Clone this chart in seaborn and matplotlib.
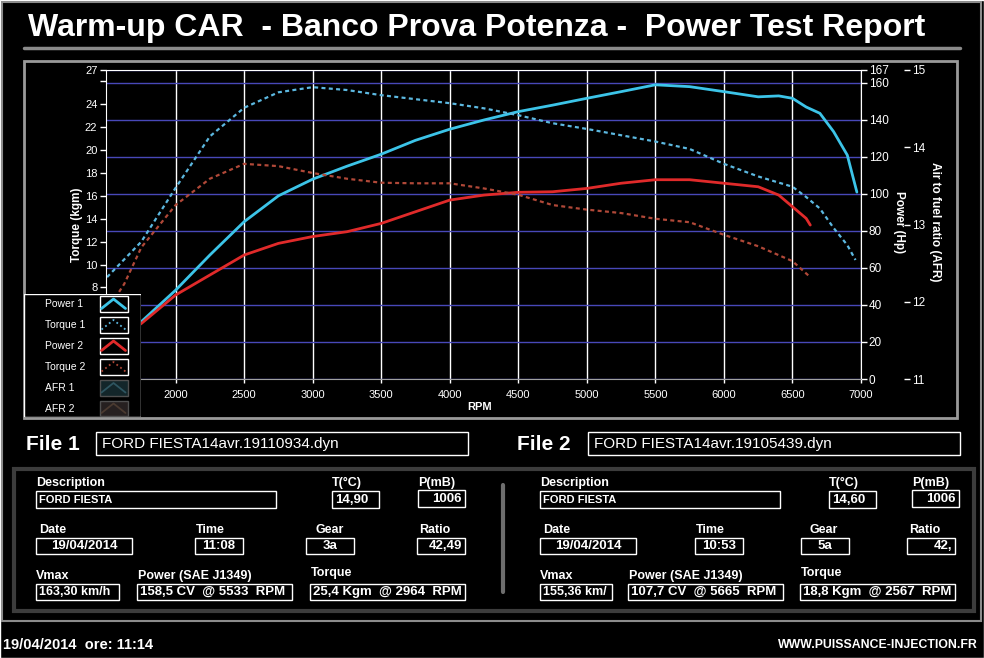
import numpy as np
import pandas as pd
import seaborn as sns
import matplotlib.pyplot as plt
from matplotlib.patches import Rectangle

# curves
rpm_power_1 = [1500, 1750, 2000, 2250, 2500, 2750, 3000, 3250, 3500, 3750, 4000, 4250, 4500, 4750,
               5000, 5250, 5500, 5750, 6000, 6250, 6400, 6500, 6600, 6700, 6800, 6900, 6970]
power_1 = [19, 31, 48, 67, 85, 99, 108, 115, 121.5, 129, 135, 140, 144.5, 148,
           151.7, 155.3, 159, 158, 155.3, 152.5, 153, 151.7, 147, 143.6, 133.7, 121, 101]

rpm_torque_1 = [1500, 1750, 2000, 2250, 2500, 2750, 3000, 3250, 3500, 3750, 4000, 4250, 4500, 4750,
                5000, 5250, 5500, 5750, 6000, 6250, 6500, 6600, 6700, 6800, 6900, 6960]
torque_1 = [8.9, 12.0, 16.7, 21.2, 23.7, 25.05, 25.5, 25.25, 24.8, 24.45, 24.1, 23.65, 23.05, 22.35,
            21.85, 21.3, 20.75, 20.1, 18.8, 17.7, 16.8, 15.9, 14.9, 13.2, 11.7, 10.4]

rpm_power_2 = [1500, 1750, 2000, 2250, 2500, 2750, 3000, 3250, 3500, 3750, 4000, 4250, 4500, 4750,
               5000, 5250, 5500, 5750, 6000, 6250, 6400, 6500, 6600, 6630]
power_2 = [18, 30, 45.4, 56.2, 67, 73.3, 77, 79.6, 84.1, 90.4, 96.7, 99.4, 100.9, 101.2,
           103, 105.8, 107.7, 107.7, 105.8, 103.9, 99.4, 93.1, 86.8, 83.2]

rpm_torque_2 = [1500, 1625, 1750, 2000, 2250, 2500, 2750, 3000, 3250, 3500, 3750, 4000, 4250, 4500,
                4750, 5000, 5250, 5500, 5750, 6000, 6250, 6500, 6630]
torque_2 = [6.0, 8.3, 11.5, 15.2, 17.5, 18.8, 18.6, 18.0, 17.5, 17.15, 17.1, 17.1, 16.65, 16.1,
            15.2, 14.8, 14.5, 14.0, 13.7, 12.6, 11.6, 10.3, 8.9]

legend_names = ["Power 1", "Torque 1", "Power 2", "Torque 2", "AFR 1", "AFR 2"]
rpm_ticks = [2000, 2500, 3000, 3500, 4000, 4500, 5000, 5500, 6000, 6500, 7000]
torque_ticks = [0, 2, 4, 6, 8, 10, 12, 14, 16, 18, 20, 22, 24, 26, 27]
power_ticks = [0, 20, 40, 60, 80, 100, 120, 140, 160, 167]
afr_ticks = [11, 12, 13, 14, 15]

title = "Warm-up CAR  - Banco Prova Potenza -  Power Test Report"
file_names = ["FORD FIESTA14avr.19110934.dyn", "FORD FIESTA14avr.19105439.dyn"]
descriptions = ["FORD FIESTA", "FORD FIESTA"]
temps = ["14,90", "14,60"]
pressures = ["1006", "1006"]
dates = ["19/04/2014", "19/04/2014"]
times = ["11:08", "10:53"]
gears = ["3a", "5a"]
ratios = ["42,49", "42,"]
vmax = ["163,30 km/h", "155,36 km/"]
power_peak = ["158,5 CV  @ 5533  RPM", "107,7 CV  @ 5665  RPM"]
torque_peak = ["25,4 Kgm  @ 2964  RPM", "18,8 Kgm  @ 2567  RPM"]
footer_left = "19/04/2014  ore: 11:14"
footer_right = "WWW.PUISSANCE-INJECTION.FR"

c_p1, c_t1 = "#3cc4e8", "#5cb8e0"
c_p2, c_t2 = "#e02a2a", "#b04838"
grid_blue = "#4848b8"

sns.set_style("dark")
plt.rcParams["font.family"] = ["Liberation Sans", "DejaVu Sans"]
plt.rcParams["text.color"] = "white"

W, H = 984, 658
fig = plt.figure(figsize=(9.84, 6.58), dpi=100, facecolor="black")


def px(x0, y0, x1, y1):
    return [x0 / W, 1 - y1 / H, (x1 - x0) / W, (y1 - y0) / H]


# background / frames
bg = fig.add_axes([0, 0, 1, 1], zorder=0)
bg.set_xlim(0, W)
bg.set_ylim(H, 0)
bg.axis("off")
bg.add_patch(Rectangle((0, 0), W, H, facecolor="black"))
bg.add_patch(Rectangle((2, 2), 979, 619, facecolor="none", edgecolor="#8c8c8c", lw=1.5))
bg.plot([24, 960], [48, 48], color="#8a8a8a", lw=2.5)
bg.text(477, 28, title, ha="center", va="center", fontsize=23, fontweight="bold")
bg.add_patch(Rectangle((24, 61), 933, 357, facecolor="black", edgecolor="#9a9a9a", lw=2))

bg.text(76.7, 225, "Torque (kgm)", rotation=90, ha="center", va="center", fontsize=8.5, fontweight="bold")
bg.text(899, 222, "Power (Hp)", rotation=270, ha="center", va="center", fontsize=8.5, fontweight="bold")
bg.text(935, 222, "Air to fuel ratio (AFR)", rotation=270, ha="center", va="center", fontsize=8.5, fontweight="bold")
bg.text(480, 407, "RPM", ha="center", va="center", fontsize=8, fontweight="bold")

# info panel
bg.add_patch(Rectangle((14, 469), 960, 142, facecolor="black", edgecolor="#3c3c3c", lw=3))
bg.plot([503, 503], [485, 592], color="#6e6e6e", lw=3)


def field(x0, x1, y0, y1, s, ha="left", size=9):
    bg.add_patch(Rectangle((x0, y0), x1 - x0, y1 - y0, facecolor="black", edgecolor="white", lw=1))
    if ha == "left":
        tx = x0 + 3
    elif ha == "right":
        tx = x1 - 3
    else:
        tx = (x0 + x1) / 2
    bg.text(tx, (y0 + y1) / 2 + 0.5, s, ha=ha, va="center", fontsize=size, fontweight="bold")


def label(x, y, s):
    bg.text(x, y, s, ha="left", va="center", fontsize=9, fontweight="bold")


for i, dx in enumerate([0, 504]):
    fx = [96, 588][i]
    bg.text([26, 517][i], 444, f"File {i + 1}", ha="left", va="center", fontsize=15, fontweight="bold")
    bg.add_patch(Rectangle((fx, 432), 372, 23, facecolor="black", edgecolor="white", lw=1))
    bg.text(fx + 6, 444, file_names[i], ha="left", va="center", fontsize=11)

    label(36 + dx, 483, "Description")
    field(36 + dx, 276 + dx, 491, 507.5, descriptions[i], size=8)
    tx = [332, 829][i]
    label(tx, 483, "T(°C)")
    field(tx, tx + 47, 491, 507.5, temps[i], size=9.5)
    label(418 + dx - 10 * i, 483, "P(mB)")
    field(418 + dx - 10 * i, 465 + dx - 10 * i, 490, 506.5, pressures[i], ha="right", size=9.5)

    label(39 + dx, 530, "Date")
    field(36 + dx, 132 + dx, 537.5, 554, dates[i], ha="center", size=9.5)
    mx = [195, 695][i]
    label(mx + 1, 530, "Time")
    field(mx, mx + 48, 537.5, 554, times[i], ha="center", size=9.5)
    gx = [306, 801][i]
    label(gx + 9, 530, "Gear")
    field(gx, gx + 48, 537.5, 554, gears[i], ha="center", size=9.5)
    rx = [417, 907][i]
    label(rx + 2, 530, "Ratio")
    field(rx, rx + 48, 537.5, 554, ratios[i], ha="right", size=9.5)

    label(36 + dx, 576, "Vmax")
    field(36 + dx, [119, 612][i], 583.5, 600, vmax[i], size=9)
    px0 = [137, 628][i]
    label(px0 + 1, 576, "Power (SAE J1349)")
    field(px0, px0 + 155, 583.5, 600, power_peak[i], size=9.5)
    qx = [310, 800][i]
    label(qx + 1, 573, "Torque")
    field(qx, qx + 155, 583.5, 600, torque_peak[i], size=9.5)

bg.text(3, 645, footer_left, ha="left", va="center", fontsize=10.5, fontweight="bold")
bg.text(978, 645, footer_right, ha="right", va="center", fontsize=8.8, fontweight="bold")

# chart axes
box = px(105.7, 70, 861, 379)
pw = fig.add_axes(box, zorder=1)
tq = fig.add_axes(box, zorder=2, sharex=pw)
af = fig.add_axes(box, zorder=3, sharex=pw)
pw.set_facecolor("black")
for a in (tq, af):
    a.patch.set_visible(False)

sns.lineplot(x=rpm_power_1, y=power_1, ax=pw, color=c_p1, lw=2)
sns.lineplot(x=rpm_power_2, y=power_2, ax=pw, color=c_p2, lw=2)
sns.lineplot(x=rpm_torque_1, y=torque_1, ax=tq, color=c_t1, lw=1.6, linestyle=(0, (1.8, 1.5)))
sns.lineplot(x=rpm_torque_2, y=torque_2, ax=tq, color=c_t2, lw=1.6, linestyle=(0, (1.8, 1.5)))

pw.set_xlim(1490, 7000)
pw.set_ylim(0, 167)
pw.set_xticks(rpm_ticks)
pw.set_yticks(power_ticks)
pw.yaxis.tick_right()
pw.grid(axis="y", color=grid_blue, lw=1)
pw.grid(axis="x", color="white", lw=1)
pw.tick_params(axis="y", colors="white", labelcolor="white", labelsize=8.5, length=4, width=1,
               direction="out", pad=1.5, left=False, right=True)
pw.tick_params(axis="x", colors="white", labelcolor="white", labelsize=8, length=3, width=1,
               direction="out", pad=5, bottom=True)
for s in ["top", "right"]:
    pw.spines[s].set_color("white")
pw.spines["bottom"].set_color("#a0a0a0")
pw.spines["left"].set_visible(False)
pw.set_xlabel("")
pw.set_ylabel("")

tq.set_ylim(0, 27)
tq.set_yticks(torque_ticks)
tq.set_yticklabels([str(t) if t != 26 else "" for t in torque_ticks])
tq.tick_params(axis="y", colors="white", labelcolor="white", labelsize=8, length=4, width=1,
               direction="out", pad=2, left=True)
tq.tick_params(axis="x", bottom=False, labelbottom=False)
for s in ["top", "right", "bottom"]:
    tq.spines[s].set_visible(False)
tq.spines["left"].set_color("white")
tq.grid(False)
tq.set_xlabel("")
tq.set_ylabel("")

af.set_ylim(11, 15)
af.set_yticks(afr_ticks)
af.yaxis.tick_right()
af.spines["right"].set_position(("outward", 31))
for s in af.spines.values():
    s.set_visible(False)
af.tick_params(axis="y", colors="white", labelcolor="white", labelsize=8.5, length=4, width=1,
               direction="out", pad=1.5, right=True, left=False)
af.tick_params(axis="x", bottom=False, labelbottom=False)
af.grid(False)

# legend block
lg = fig.add_axes(px(24, 294, 141, 417), zorder=10)
lg.axis("off")
lg.add_patch(Rectangle((24, 294), 117, 123, facecolor="black"))
grad = np.array([np.concatenate([np.linspace(0.18, 0.42, 6), np.linspace(0.42, 0.22, 8)])])
lg.imshow(grad, extent=(128, 141, 417, 294), cmap="Greys_r", vmin=0, vmax=1, aspect="auto")
lg.set_xlim(24, 141)
lg.set_ylim(417, 294)

row_y = [304, 325, 346, 367, 388, 408.5]
styles = [(c_p1, "-", "white", "black"), (c_t1, ":", "white", "black"),
          (c_p2, "-", "white", "black"), (c_t2, ":", "white", "black"),
          ("#2e5560", "-", "#505050", "#13262a"), ("#4a3a30", "-", "#505050", "#262020")]
for name, y, (col, ls, ec, fc) in zip(legend_names, row_y, styles):
    lg.text(45, y, name, ha="left", va="center", fontsize=7.5, color="white")
    lg.add_patch(Rectangle((99.5, y - 7.8), 28, 15.6, facecolor=fc, edgecolor=ec, lw=1))
    lg.plot([101.5, 113.5, 125.5], [y + 4.5, y - 5, y + 4.5], color=col, ls=ls,
            lw=2 if ls == "-" and ec == "white" else 1.3)

fig.savefig("out.png", dpi=100, facecolor="black")
